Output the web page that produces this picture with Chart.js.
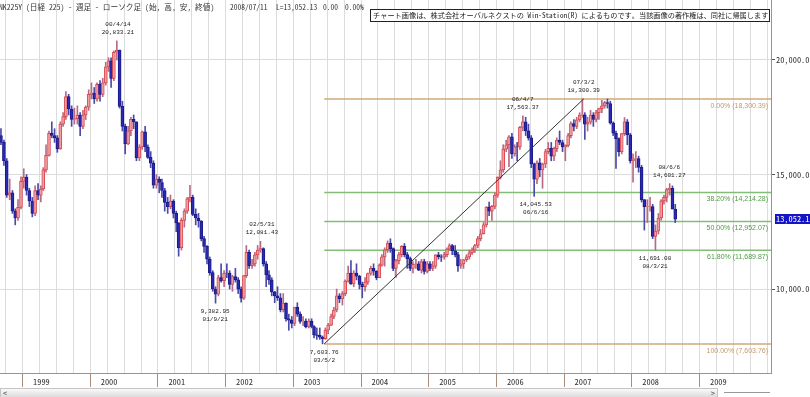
<!DOCTYPE html>
<html>
<head>
<meta charset="utf-8">
<title>NK225Y 週足</title>
<script src="https://cdn.jsdelivr.net/npm/chart.js"></script>
<style>
    body { margin: 0; width: 810px; height: 397px; overflow: hidden; background: #fff; position: relative;
           font-family: "Noto Sans Mono CJK JP", "Noto Sans CJK JP", monospace; }
    #chart { position: absolute; left: 0; top: 0; }
    .hdr { position: absolute; top: 2px; font-size: 7.5px; line-height: 10px; color: #333; white-space: pre; }
    #title { left: -1px; font-size: 7.7px; }
    #credit { position: absolute; left: 370px; top: 9px; width: 396px; height: 11px; border: 1px solid #222; background: #fff;
              font-size: 7.2px; line-height: 11px; color: #222; white-space: nowrap; overflow: hidden; padding-left: 2px; }
    #scroll { position: absolute; left: 0; top: 388px; width: 716px; height: 8px; border: 1px solid #c4c4c4;
              background: linear-gradient(#fafafa, #dcdcdc); font-size: 8px; line-height: 8px; color: #333; }
    #scroll .l { position: absolute; left: 2px; top: 0; }
    #scroll .r { position: absolute; right: 2px; top: 0; }
    #zoom { position: absolute; left: 724px; top: 392px; width: 46px; height: 1px; background: #999; }
</style>
</head>
<body>
<canvas id="chart" width="810" height="388"></canvas>
<div class="hdr" id="title">NK225Y (日経 225) - 週足 - ローソク足 (始, 高, 安, 終値)</div>
<div class="hdr" style="left:230px">2008/07/11</div>
<div class="hdr" style="left:276px">L=13,052.13</div>
<div class="hdr" style="left:323px">0.00</div>
<div class="hdr" style="left:345px">0.00%</div>
<div id="credit">チャート画像は、株式会社オーバルネクストの Win-Station(R) によるものです。当該画像の著作権は、同社に帰属します</div>
<div id="scroll"><span class="l">&lt;</span><span class="r">&gt;</span></div>
<div id="zoom"></div>
<script>
    // half-month candles, dated at the middle of each half
    const periods = [
        '1998-07-23','1998-08-08','1998-08-23','1998-09-08','1998-09-23','1998-10-08','1998-10-23','1998-11-08','1998-11-23','1998-12-08','1998-12-23',
        '1999-01-08','1999-01-23','1999-02-08','1999-02-23','1999-03-08','1999-03-23','1999-04-08','1999-04-23','1999-05-08','1999-05-23','1999-06-08','1999-06-23',
        '1999-07-08','1999-07-23','1999-08-08','1999-08-23','1999-09-08','1999-09-23','1999-10-08','1999-10-23','1999-11-08','1999-11-23','1999-12-08','1999-12-23',
        '2000-01-08','2000-01-23','2000-02-08','2000-02-23','2000-03-08','2000-03-23','2000-04-08','2000-04-23','2000-05-08','2000-05-23','2000-06-08','2000-06-23',
        '2000-07-08','2000-07-23','2000-08-08','2000-08-23','2000-09-08','2000-09-23','2000-10-08','2000-10-23','2000-11-08','2000-11-23','2000-12-08','2000-12-23',
        '2001-01-08','2001-01-23','2001-02-08','2001-02-23','2001-03-08','2001-03-23','2001-04-08','2001-04-23','2001-05-08','2001-05-23','2001-06-08','2001-06-23',
        '2001-07-08','2001-07-23','2001-08-08','2001-08-23','2001-09-08','2001-09-23','2001-10-08','2001-10-23','2001-11-08','2001-11-23','2001-12-08','2001-12-23',
        '2002-01-08','2002-01-23','2002-02-08','2002-02-23','2002-03-08','2002-03-23','2002-04-08','2002-04-23','2002-05-08','2002-05-23','2002-06-08','2002-06-23',
        '2002-07-08','2002-07-23','2002-08-08','2002-08-23','2002-09-08','2002-09-23','2002-10-08','2002-10-23','2002-11-08','2002-11-23','2002-12-08','2002-12-23',
        '2003-01-08','2003-01-23','2003-02-08','2003-02-23','2003-03-08','2003-03-23','2003-04-08','2003-04-23','2003-05-08','2003-05-23','2003-06-08','2003-06-23',
        '2003-07-08','2003-07-23','2003-08-08','2003-08-23','2003-09-08','2003-09-23','2003-10-08','2003-10-23','2003-11-08','2003-11-23','2003-12-08','2003-12-23',
        '2004-01-08','2004-01-23','2004-02-08','2004-02-23','2004-03-08','2004-03-23','2004-04-08','2004-04-23','2004-05-08','2004-05-23','2004-06-08','2004-06-23',
        '2004-07-08','2004-07-23','2004-08-08','2004-08-23','2004-09-08','2004-09-23','2004-10-08','2004-10-23','2004-11-08','2004-11-23','2004-12-08','2004-12-23',
        '2005-01-08','2005-01-23','2005-02-08','2005-02-23','2005-03-08','2005-03-23','2005-04-08','2005-04-23','2005-05-08','2005-05-23','2005-06-08','2005-06-23',
        '2005-07-08','2005-07-23','2005-08-08','2005-08-23','2005-09-08','2005-09-23','2005-10-08','2005-10-23','2005-11-08','2005-11-23','2005-12-08','2005-12-23',
        '2006-01-08','2006-01-23','2006-02-08','2006-02-23','2006-03-08','2006-03-23','2006-04-08','2006-04-23','2006-05-08','2006-05-23','2006-06-08','2006-06-23',
        '2006-07-08','2006-07-23','2006-08-08','2006-08-23','2006-09-08','2006-09-23','2006-10-08','2006-10-23','2006-11-08','2006-11-23','2006-12-08','2006-12-23',
        '2007-01-08','2007-01-23','2007-02-08','2007-02-23','2007-03-08','2007-03-23','2007-04-08','2007-04-23','2007-05-08','2007-05-23','2007-06-08','2007-06-23',
        '2007-07-08','2007-07-23','2007-08-08','2007-08-23','2007-09-08','2007-09-23','2007-10-08','2007-10-23','2007-11-08','2007-11-23','2007-12-08','2007-12-23',
        '2008-01-08','2008-01-23','2008-02-08','2008-02-23','2008-03-08','2008-03-23','2008-04-08','2008-04-23','2008-05-08','2008-05-23','2008-06-08','2008-06-23',
        '2008-07-08'
    ];

    const opens = [
        16700,16400,15600,14100,14200,13400,13100,13564,14700,14883,14300,
        13842,13300,14300,14100,14367,15200,15837,16800,16702,16600,16112,17200,17530,18400,17862,17400,17437,17600,17100,17600,17942,18500,18558,18300,
        18934,18500,19000,19700,19959,19200,20337,20434,17973,17100,16332,16900,17411,17300,15727,16200,16861,16200,15747,15500,14539,14800,14649,14300,
        13785,13600,13843,13300,12883,11800,12999,13400,13934,14000,13262,13100,12969,12200,11860,11300,10713,10000,9774,10500,10366,10700,10697,10200,
        10542,10400,9997,9600,10587,11600,11024,11100,11492,11700,11763,11100,10621,10400,9877,9700,9619,9100,9383,8700,8640,8500,9216,8900,
        8579,8600,8340,8600,8363,8000,7973,7900,7831,8200,8425,8800,9083,9700,9563,9800,10344,10700,10219,10700,10560,10200,10101,10300,
        10677,10900,10784,10500,11042,11400,11715,12000,11762,10900,11236,11500,11859,11500,11326,10900,11082,11100,10824,11200,10771,11100,10899,11000,
        11489,11400,11388,11500,11741,11900,11669,11500,11009,11100,11277,11400,11584,11700,11900,12200,12414,12800,13574,13400,13607,14100,14872,15200,
        16111,16300,16650,15900,16206,16200,17060,17300,16907,16600,15467,14800,15505,15200,15457,16000,16141,15800,16128,16500,16399,16200,16274,16700,
        17226,17100,17383,17600,17604,17200,17288,17600,17400,17700,17876,18000,18138,18100,17249,16800,16569,16000,16786,17300,16737,15600,15681,15700,
        15308,13900,13592,13600,13603,12300,12526,13100,13850,14000,14338,14400,13481
    ];
    const highs = [
        17000,16500,15700,14800,14300,13500,13900,14900,15250,15000,14400,
        14000,14500,14600,14500,15300,16300,16900,17300,17000,16700,17300,17700,18623,18500,18000,17900,18000,17700,17800,18000,18700,19000,18800,19000,
        19100,19200,19900,20100,20100,20400,20833.21,20434,18200,17200,17100,17500,17600,17300,16300,16900,17100,16300,16000,15600,15000,14900,14800,14400,
        14000,14100,13900,13400,12900,13100,13500,14000,14529,14100,13500,13300,12990,12300,11900,11400,10800,10100,10600,11100,10800,11100,10800,10600,
        10900,10500,10100,10600,11900,11700,11300,11600,11900,12081.43,11800,11200,10800,10500,9900,10100,9800,9800,9400,8900,8800,9200,9400,9000,
        8800,8700,8700,8700,8400,8300,8300,7950,8300,8500,8900,9200,10000,9800,9900,10400,11000,11238,10800,11100,10600,10300,10500,10700,
        11000,11100,10800,11100,11500,11800,12100,12195,11800,11300,11600,11900,11988,11600,11400,11200,11300,11200,11300,11300,11200,11200,11200,11500,
        11600,11500,11600,11800,11975,11950,11900,11600,11300,11300,11500,11700,11800,11950,12300,12600,12900,13600,13800,13650,14200,14900,15600,16300,
        16500,16700,16800,16300,16400,17100,17563.37,17500,17200,16700,15500,15600,15700,15500,16100,16400,16400,16200,16600,16900,16500,16300,16800,17300,
        17400,17500,17700,18300.39,17700,17500,17800,17700,17800,17900,18240,18200,18297,18200,17300,16900,16600,16800,17488,17400,16800,15900,16000,15800,
        15400,13900,13900,14000,13700,12800,13300,13900,14100,14400,14601.27,14500,13700
    ];
    const lows = [
        16300,15400,14000,13900,13300,12800,13000,13500,14400,14100,13600,
        13150,13200,13900,13800,14300,15100,15800,16600,16400,15970,16100,17100,17400,17600,17100,17200,17200,16700,17000,17400,17800,18300,18100,18200,
        18200,18400,18900,19500,18800,19100,20000,17900,16900,15900,16300,16700,17000,15600,15600,16100,16000,15700,15300,14400,14400,14200,14000,13400,
        13300,13500,13100,12500,11433,11700,12700,13300,13800,13200,12800,12700,12100,11600,11100,10600,9900,9382.95,9700,10300,10100,10500,10000,9900,
        10300,9800,9420,9550,10500,10900,10900,11000,11300,11600,11000,10100,10200,9700,9400,9500,9000,9000,8600,8197,8300,8400,8800,8500,
        8400,8300,8300,8300,7860,7800,7800,7603.76,7800,8050,8400,8700,9000,9400,9300,9700,10300,10200,10100,10400,10000,9614,9900,10200,
        10600,10600,10400,10500,11000,11000,11600,11600,10800,10505,11100,11400,11400,10900,10800,10700,10900,10800,10700,10650,10700,10800,10800,10900,
        11300,11200,11300,11400,11700,11500,11400,10770,10900,10900,11200,11300,11500,11600,11800,12100,12400,12700,13200,13000,13500,14000,14800,15100,
        16000,15341,15700,15800,15600,16100,16900,16700,16500,15300,14045.53,14600,14900,14400,15300,15900,15600,15600,16000,16300,16000,15600,16200,16600,
        16900,17000,17300,17500,16532,16900,17200,17100,17300,17400,17700,17900,17900,17200,16700,15262,15800,15900,16700,16300,15500,14669,15300,15100,
        13800,12573,12900,13400,12200,11691,12400,13000,13700,13800,14100,13500,12900
    ];
    const closes = [
        16400,15600,14100,14200,13400,13100,13564,14700,14883,14300,13842,
        13300,14300,14100,14367,15200,15837,16800,16702,16600,16112,17200,17530,18400,17862,17400,17437,17600,17100,17600,17942,18500,18558,18300,18934,
        18500,19000,19700,19959,19200,20337,20434,17973,17100,16332,16900,17411,17300,15727,16200,16861,16200,15747,15500,14539,14800,14649,14300,13785,
        13600,13843,13300,12883,11800,12999,13400,13934,14000,13262,13100,12969,12200,11860,11300,10713,10000,9774,10500,10366,10700,10697,10200,10542,
        10400,9997,9600,10587,11600,11024,11100,11492,11700,11763,11100,10621,10400,9877,9700,9619,9100,9383,8700,8640,8500,9216,8900,8579,
        8600,8340,8600,8363,8000,7973,7900,7831,8200,8425,8800,9083,9700,9563,9800,10344,10700,10219,10700,10560,10200,10101,10300,10677,
        10900,10784,10500,11042,11400,11715,12000,11762,10900,11236,11500,11859,11500,11326,10900,11082,11100,10824,11200,10771,11100,10899,11000,11489,
        11400,11388,11500,11741,11900,11669,11500,11009,11100,11277,11400,11584,11700,11900,12200,12414,12800,13574,13400,13607,14100,14872,15200,16111,
        16300,16650,15900,16206,16200,17060,17300,16907,16600,15467,14800,15505,15200,15457,16000,16141,15800,16128,16500,16399,16200,16274,16700,17226,
        17100,17383,17600,17604,17200,17288,17600,17400,17700,17876,18000,18138,18100,17249,16800,16569,16000,16786,17300,16737,15600,15681,15700,15308,
        13900,13592,13600,13603,12300,12526,13100,13850,14000,14338,14400,13481,13052.13
    ];

    // fibonacci retracement from the 03/5/2 low to the 07/3/2 high
    const fibStart = '2003-05-02';
    const fibLevels = [0, 38.2, 50, 61.8, 100];
    const fibValues = [18300.39, 14214.28, 12952.07, 11689.87, 7603.76];

    // trend line low -> high
    const trendDates = ['2003-05-02', '2007-03-02'];
    const trendValues = [7603.76, 18300.39];

    // labelled highs and lows
    const noteDates = ['2000-04-14', '2001-09-21', '2002-05-31', '2003-05-02', '2006-04-07', '2006-06-16', '2007-03-02', '2008-03-21', '2008-06-06'];
    const noteLabels = ['00/4/14', '01/9/21', '02/5/31', '03/5/2', '06/4/7', '06/6/16', '07/3/2', '08/3/21', '08/6/6'];
    const noteValues = [20833.21, 9382.95, 12081.43, 7603.76, 17563.37, 14045.53, 18300.39, 11691.00, 14601.27];
    const noteSides = ['high', 'low', 'high', 'low', 'high', 'low', 'high', 'low', 'high'];

    const yearTicks = [1999, 2000, 2001, 2002, 2003, 2004, 2005, 2006, 2007, 2008, 2009];
    const priceTicks = [10000, 15000, 20000];

    const X_MIN = 1998.542, X_MAX = 2009.931;
    const Y_MIN = 6332, Y_MAX = 22620;

    function toYear(s) {
        const [y, m, d] = s.split('-').map(Number);
        const start = Date.UTC(y, 0, 1), end = Date.UTC(y + 1, 0, 1);
        return y + (Date.UTC(y, m - 1, d) - start) / (end - start);
    }
    const fmt = v => v.toLocaleString('en-US', { minimumFractionDigits: 2, maximumFractionDigits: 2 });
    const isYear = v => Math.abs(v - Math.round(v)) < 1e-6;

    const UP_FILL = '#f0a0a4', UP_EDGE = '#d84a50', DOWN_FILL = '#2a2ab4', DOWN_EDGE = '#1a1a8a';
    const isUp = i => closes[i] >= opens[i];

    const quarterTicks = [];
    yearTicks.forEach(yr => [-0.25, 0, 0.25, 0.5].forEach(q => quarterTicks.push(yr + q)));
    quarterTicks.push(2009.75);

    const monoFont = '"Noto Sans Mono CJK JP", "DejaVu Sans Mono", monospace';

    const fibLines = fibLevels.map((lv, i) => ({
        type: 'line',
        data: [{ x: toYear(fibStart), y: fibValues[i] }, { x: X_MAX, y: fibValues[i] }],
        borderColor: (lv === 0 || lv === 100) ? '#cfa878' : '#84bd78',
        borderWidth: 1.5,
        pointRadius: 0,
        order: 5
    }));

    const notesPlugin = {
        id: 'notes',
        afterDatasetsDraw(chart) {
            const { ctx, chartArea, scales: { x, y } } = chart;
            ctx.save();
            ctx.textBaseline = 'middle';

            ctx.font = '7px "Liberation Sans", Arial, sans-serif';
            ctx.textAlign = 'right';
            fibLevels.forEach((lv, i) => {
                ctx.fillStyle = (lv === 0 || lv === 100) ? '#c39a6a' : '#4f9a45';
                ctx.fillText(`${lv.toFixed(2)}% (${fmt(fibValues[i])})`, chartArea.right - 3, y.getPixelForValue(fibValues[i]) + 7);
            });

            ctx.font = '6px "Liberation Mono", monospace';
            ctx.textAlign = 'center';
            ctx.fillStyle = '#222';
            noteDates.forEach((d, i) => {
                const px = x.getPixelForValue(toYear(d));
                const py = y.getPixelForValue(noteValues[i]);
                const s = noteSides[i] === 'high' ? -1 : 1;
                ctx.fillText(fmt(noteValues[i]), px, py + s * 8.5);
                ctx.fillText(noteLabels[i], px, py + s * 16.5);
            });

            const last = closes[closes.length - 1];
            const ly = y.getPixelForValue(last);
            ctx.fillStyle = '#1414c8';
            ctx.fillRect(chartArea.right + 4, Math.round(ly) - 5, 40, 10);
            ctx.fillStyle = '#fff';
            ctx.textAlign = 'left';
            ctx.font = '8.4px ' + monoFont;
            ctx.fillText(fmt(last), chartArea.right + 5, Math.round(ly));
            ctx.restore();
        }
    };

    const ctx = document.getElementById('chart').getContext('2d');
    new Chart(ctx, {
        type: 'bar',
        data: {
            datasets: [
                ...fibLines,
                {
                    type: 'line',
                    data: trendDates.map((d, i) => ({ x: toYear(d), y: trendValues[i] })),
                    borderColor: '#333',
                    borderWidth: 1,
                    pointRadius: 0,
                    order: 1
                },
                {
                    label: 'wick',
                    data: periods.map((p, i) => ({ x: toYear(p), y: [lows[i], highs[i]] })),
                    backgroundColor: periods.map((p, i) => isUp(i) ? '#b86a84' : '#4a4aa8'),
                    barThickness: 1,
                    grouped: false,
                    order: 3
                },
                {
                    label: 'body',
                    data: periods.map((p, i) => ({ x: toYear(p), y: [opens[i], closes[i]] })),
                    backgroundColor: periods.map((p, i) => isUp(i) ? UP_FILL : DOWN_FILL),
                    borderColor: periods.map((p, i) => isUp(i) ? UP_EDGE : DOWN_EDGE),
                    borderWidth: 1,
                    borderSkipped: false,
                    barThickness: 3,
                    grouped: false,
                    order: 2
                }
            ]
        },
        options: {
            responsive: false,
            animation: false,
            layout: { padding: 0, autoPadding: false },
            plugins: { legend: { display: false }, tooltip: { enabled: false } },
            scales: {
                x: {
                    type: 'linear',
                    min: X_MIN,
                    max: X_MAX,
                    offset: false,
                    afterBuildTicks: axis => { axis.ticks = quarterTicks.map(v => ({ value: v })); },
                    afterFit: axis => { axis.height = 15; axis.paddingLeft = 0; axis.paddingRight = 0; },
                    grid: {
                        color: '#dcdcdc',
                        tickLength: 14,
                        tickColor: c => (c.tick && isYear(c.tick.value)) ? '#a88c7c' : 'rgba(0,0,0,0)'
                    },
                    border: { color: '#a89080' },
                    ticks: {
                        autoSkip: false,
                        maxRotation: 0,
                        align: 'start',
                        labelOffset: 2,
                        padding: -10,
                        color: '#333',
                        font: { family: monoFont, size: 8.4 },
                        callback: v => isYear(v) ? String(Math.round(v)) : ''
                    }
                },
                y: {
                    position: 'right',
                    min: Y_MIN,
                    max: Y_MAX,
                    afterBuildTicks: axis => { axis.ticks = priceTicks.map(v => ({ value: v })); },
                    afterFit: axis => { axis.width = 39; axis.paddingTop = 0; axis.paddingBottom = 0; },
                    grid: { color: '#dcdcdc', tickLength: 4, tickColor: '#555' },
                    border: { color: '#a89080' },
                    ticks: {
                        padding: 1,
                        color: '#333',
                        font: { family: monoFont, size: 8.4 },
                        callback: v => fmt(v)
                    }
                }
            }
        },
        plugins: [notesPlugin]
    });
</script>
</body>
</html>
